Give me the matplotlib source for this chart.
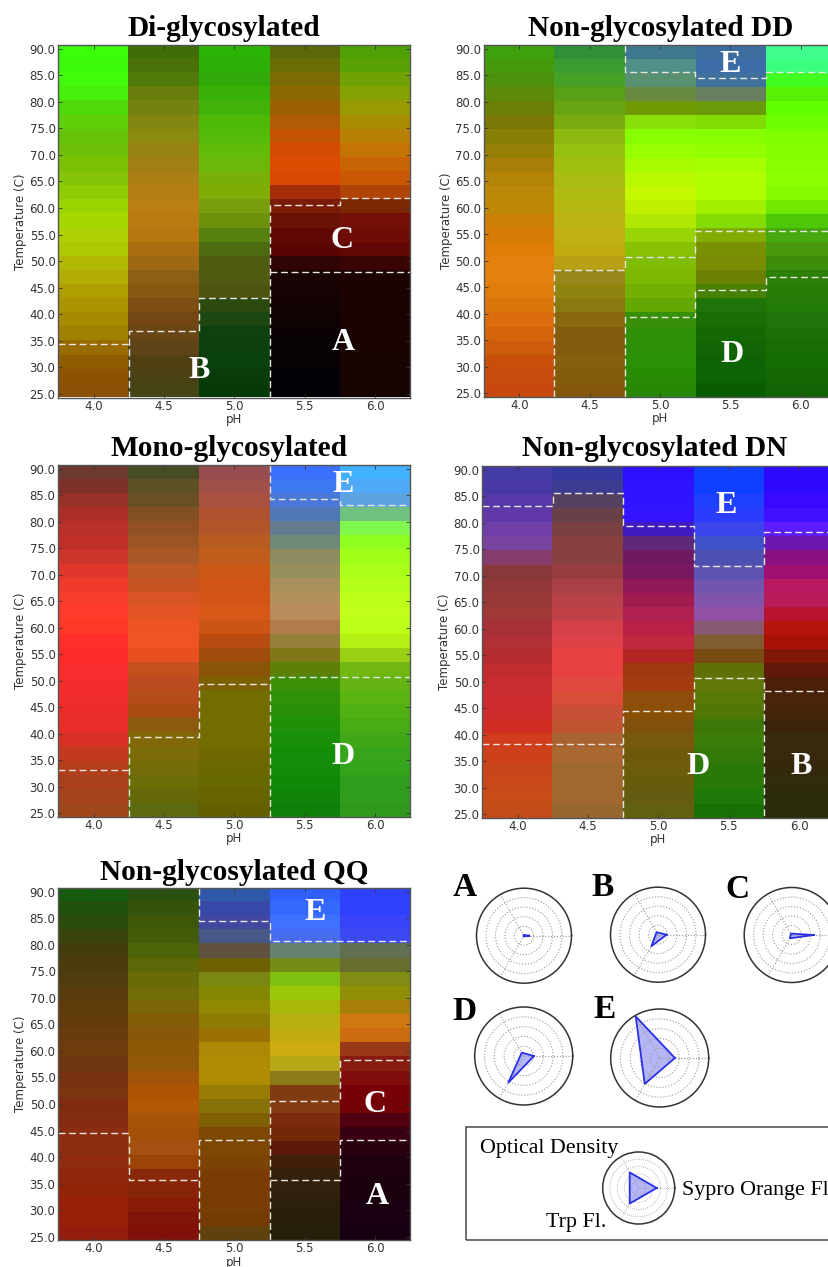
#!/usr/bin/env python3
#
# Stability heat maps (pH vs temperature) with radar plots of the phases
#
import numpy as np
import matplotlib
matplotlib.use('Agg')
import matplotlib.pyplot as plt
from matplotlib.colors import to_rgb
from matplotlib.patches import Rectangle

W, H = 829.0, 1267.0
SERIF = ['Liberation Serif', 'DejaVu Serif']

ph_ticks = [4.0, 4.5, 5.0, 5.5, 6.0]
temp_ticks = [25, 30, 35, 40, 45, 50, 55, 60, 65, 70, 75, 80, 85, 90]

# one colour per band, top (90 C) to bottom (25 C), one string per pH column
di_gly = [
 "3aff0a 3dfb0a 40fb0a 45f00a 50d80a 5ecf08 66c408 6fbe08 7cc006 85c406 90cc04 9ad400 a4d800 aed004 aec804 b0b804 b0ac04 ae9e00 ac9400 a88a00 a08000 986c02 905c02 8c5402 8a5006",
 "3f6e08 4a7008 527a0a 687d0c 758210 828610 8c8a10 988214 a08014 aa8014 b47e14 ba7e12 ba7c12 b87610 aa6e10 9e6814 8c6014 865812 7c4e14 744614 684616 5c4416 504014 4a4214 454414",
 "2cb404 2cb008 30aa08 38b008 40b208 4cb808 54bc08 60bc08 6cb80a 78b00a 80ac08 78a00c 6c920c 568010 4c6a10 4e5a10 505a10 4c5410 2c4a10 1e4610 0e4010 0c400e 0a400c 083c0a 063808",
 "5c6808 6a6c04 7c6a04 8c6a02 9c6202 b05c04 c45404 d44c04 de4c04 da4804 a42c08 7c1c06 6c1204 620804 5a0404 300404 180202 160202 120202 0e0202 0a0204 080204 060206 040206 040206",
 "4ea004 5aa204 6fa204 84a204 989a04 a88c04 b88004 c47404 c86404 c85804 b04408 7c2804 741008 700c06 600604 3a0404 1c0202 1c0202 1a0202 1a0202 1a0402 1a0402 180402 180402 160402",
]
dd_gly = [
 "3ea00c 46980c 4c900c 5c8a0a 6c8008 7a7806 887e06 988006 a88008 b48408 bc8808 c08808 cc8006 d47c06 e07c08 e48010 e48010 e07c0c dc740c dc6c0c d4640c cc5c0c c84e0c c84c0c c84810",
 "309036 3a9c30 46a028 58a014 68a414 78ac10 8cb810 98c010 a0c010 a8bc14 b0bc14 b8b814 bcb414 c0b014 c0ac10 b8a014 98881c 908410 887a10 886810 845a0c 845a0c 84600c 845c0c 84580c",
 "407890 509088 589070 688a40 6f9a04 88e008 88ff00 98ff00 a8fa00 b8f800 c4f800 c0f000 b0e804 98d408 88c004 80bc04 7cb804 74b004 64a804 389008 2e9008 2c9008 2a9004 288c04 268804",
 "3c6ca0 3c6ca8 40709c 688060 6a9a08 80dc04 88ff00 94ff00 a8ff00 b0ff00 b0fc00 a0f000 84dc04 80ac04 7a9004 7a8c04 6c8004 488004 1e7408 1a6c04 146804 126404 0e6404 0e6404 0a5c00",
 "40ff90 3cff80 40ff20 58f004 60ff00 70ff00 80ff00 84ff00 88ff00 8cff00 88fa00 70e800 4cc808 46a80c 4a980c 3e8c0c 2c8008 2a7c08 247c08 1e7408 1a7004 186c04 166c04 146804 126404",
]
mono_gly = [
 "6c3830 7c3028 983028 ac2c28 b83028 c03028 cc342c e0362c f03a2c f83c2c ff3c2c ff3828 ff302c fc2c2c f82c2c f42c2c f02c2c ec2c28 e82c28 d83024 c43820 b43e1c a8401c a4441c a0481c",
 "484c24 5c5024 6a4e24 805024 905024 9c5424 a85824 bc5824 c85424 d85424 e45424 ec5424 f05424 e85020 c45020 bc4c20 b44c1c a84c14 8c5a0c 806808 7c6c08 746c08 6c6c08 646808 5e6810",
 "964c50 a05048 aa5040 ae5230 b05628 b85c20 c05c1c cc5818 d05418 d45418 d85818 cc5414 b84c10 a04c0c 8c5408 7c6004 746c00 746c00 746c00 746c00 706800 6c6800 686800 666400 646000",
 "3c70ff 3c78f0 4a78d8 5078b8 647c90 708878 8c8c60 98905c a8905c b4905c b88c5c b07c4c 948038 807818 5c8008 3c9008 309008 289008 209008 1a9008 148c08 148c08 108808 108408 0e8008",
 "40b0ff 50a8f8 5ca4e0 70c080 80f850 90ff20 a0ff18 acff18 b4ff18 bcff18 c0ff18 bcff18 b4f014 98d014 70b810 64b414 5cb410 50b014 48ac14 40a818 38a41c 34a41c 309c1c 309c1c 30981c",
]
dn_gly = [
 "443ca4 4838a4 5638a8 6038a8 7040a8 7844a0 843c6c 883838 903838 983838 a03838 a83038 b03038 b42c30 c02c30 c82c30 cc2c30 cc2c2c d02c24 d03c1c cc401c c8441c c8481c c84c18 c44c18",
 "3438a0 3c3c90 544060 6a4048 784040 884040 884040 983c40 a84048 b84048 c04048 d44048 e04048 e84040 e84040 e04840 d84c38 c85038 c05430 a86430 a86830 a06830 a06830 a06830 966830",
 "2c10ff 3014ff 3014ff 3414ff 401cc0 602878 701860 781860 901858 a01c50 b02050 b82048 c02840 b42424 a03810 a43c10 904c0c 8a5008 80500c 78580c 6e580c 6c5c0c 685c0c 645c10 606010",
 "1040ff 1040ff 2040ff 2c3cff 3c44ec 4050c8 4c50b0 5c54b0 7054b0 8054a8 9050a4 885870 805c30 784c10 607008 607808 587808 507808 3c7808 3c7c08 347808 2a7808 287808 1e7808 187004",
 "2c08ff 3008ff 3808ff 4010ff 5c1cff 6c18b0 881080 a01070 b81860 b81c58 b81430 b4140c a81008 801808 601808 4c2008 4a2408 442408 3c240c 38280c 38280c 34280c 302c0c 2c2c0c 2c2c0c",
]
qq_gly = [
 "145c0c 20500c 2c4c0c 38440c 443c0c 4c3c0c 503c0c 583c0c 603c0c 643c0c 683c0c 6c3c0c 703810 783410 7c3410 802c10 842c10 8c2c10 8c2c10 902a10 902810 942408 982008 982008 941c0c",
 "2c5010 34540c 3c5808 445c08 4c6408 5c6808 686c08 706c08 7c6408 845c08 885808 8c5808 905808 a05408 ac5404 b05804 a85408 a45008 a45010 9c4408 882808 882408 881c08 801408 801008",
 "3058a8 3848a8 4048a0 485888 605040 706004 788810 848800 908800 8c7c04 9c7004 ac8804 b08c04 b08c04 987c04 887008 806004 7c4804 7c4804 7c4404 783c04 783c04 783c04 743c04 60400c",
 "3060ff 3468ff 4070ff 486cf0 688070 748c18 80c010 98c808 a8b808 b8b010 c0ac10 ccac10 b8a818 8c7c18 803c10 843c10 7c2c0c 742808 5c1808 402008 34200c 30200c 2c200c 28200c 24200c",
 "3040ff 3040ff 3844f8 3c48f0 607050 686c2c 808c14 909008 a88008 d07810 cc6c10 983818 881c10 800c0c 780008 740008 500010 380010 280010 200010 1c0010 1c0010 180010 180010 140010",
]

# phase boundaries, (pH, temperature) corners of each dashed line
BOT, TOP = 24.34, 90.66
di_bounds = [
 [(3.75, 34.35), (4.25, 34.35)],
 [(4.25, BOT), (4.25, 36.86), (4.75, 36.86), (4.75, 43.13), (5.25, 43.13), (5.25, 60.57), (5.75, 60.57), (5.75, 61.8), (6.25, 61.8)],
 [(5.25, BOT), (5.25, 43.13)],
 [(5.25, 48.0), (6.25, 48.0)],
]
dd_bounds = [
 [(4.75, TOP), (4.75, 85.6), (5.25, 85.6), (5.25, 84.35), (5.75, 84.35), (5.75, 85.6), (6.25, 85.6)],
 [(4.25, BOT), (4.25, 48.15), (4.75, 48.15), (4.75, 50.66), (5.25, 50.66), (5.25, 55.68), (6.25, 55.68)],
 [(4.75, BOT), (4.75, 39.37), (5.25, 39.37), (5.25, 44.38), (5.75, 44.38), (5.75, 46.9), (6.25, 46.9)],
]
mono_bounds = [
 [(3.75, 33.15), (4.25, 33.15)],
 [(4.25, BOT), (4.25, 39.4), (4.75, 39.4), (4.75, 49.4), (5.25, 49.4)],
 [(5.25, BOT), (5.25, 50.66), (6.25, 50.66)],
 [(5.25, TOP), (5.25, 84.3), (5.75, 84.3), (5.75, 83.15), (6.25, 83.15)],
]
dn_bounds = [
 [(3.75, 83.2), (4.25, 83.2), (4.25, 85.67), (4.75, 85.67), (4.75, 79.45), (5.25, 79.45), (5.25, 71.9), (5.75, 71.9), (5.75, 78.2), (6.25, 78.2)],
 [(3.75, 38.2), (4.75, 38.2)],
 [(4.75, BOT), (4.75, 44.45), (5.25, 44.45), (5.25, 50.66), (5.75, 50.66), (5.75, BOT)],
 [(5.75, 48.2), (6.25, 48.2)],
]
qq_bounds = [
 [(3.75, 44.5), (4.25, 44.5), (4.25, 35.7), (4.75, 35.7)],
 [(4.75, BOT), (4.75, 43.25), (5.25, 43.25)],
 [(5.25, BOT), (5.25, 50.65), (5.75, 50.65), (5.75, 58.2), (6.25, 58.2)],
 [(5.25, 35.7), (5.75, 35.7), (5.75, 43.25), (6.25, 43.25)],
 [(4.75, TOP), (4.75, 84.4), (5.25, 84.4), (5.25, 80.65), (6.25, 80.65)],
]

# radar values: Sypro Orange Fl., Optical Density, Trp Fl.
radar_a = [0.11, 0.02, 0.02]
radar_b = [0.18, 0.06, 0.28]
radar_c = [0.47, 0.035, 0.08]
radar_d = [0.21, 0.08, 0.63]
radar_e = [0.31, 0.98, 0.61]
radar_key = [0.50, 0.50, 0.50]


def add_px_axes(x0, y0, x1, y1, **kw):
    return fig.add_axes([x0 / W, 1 - y1 / H, (x1 - x0) / W, (y1 - y0) / H], **kw)


def px_text(x, y, s, **kw):
    kw.setdefault('family', SERIF)
    kw.setdefault('ha', 'center')
    kw.setdefault('va', 'center')
    fig.text(x / W, 1 - y / H, s, **kw)


def heat_panel(box, columns, bounds, title, title_xy):
    ax = add_px_axes(*box)
    img = np.array([[to_rgb('#' + c) for c in col.split()] for col in columns])
    img = np.transpose(img, (1, 0, 2))
    ax.imshow(img, origin='upper', aspect='auto', interpolation='nearest',
              extent=[3.75, 6.25, BOT, TOP])
    for line in bounds:
        xs, ys = zip(*line)
        ax.plot(xs, ys, color='#e6e6e0', lw=1.0, dashes=(5, 2.6))
    ax.set_xlim(3.75, 6.25)
    ax.set_ylim(BOT, TOP)
    ax.set_xticks(ph_ticks)
    ax.set_xticklabels(['%.1f' % t for t in ph_ticks])
    ax.set_yticks(temp_ticks)
    ax.set_yticklabels(['%.1f' % t for t in temp_ticks])
    ax.tick_params(direction='in', length=3, width=0.6, color='#333333',
                   labelsize=8.5, labelcolor='#333333', top=True, right=True)
    ax.tick_params(axis='x', pad=1.5)
    ax.tick_params(axis='y', pad=2)
    ax.set_xlabel('pH', fontsize=8.5, color='#333333', labelpad=0.5)
    ax.set_ylabel('Temperature (C)', fontsize=8.5, color='#333333', labelpad=1.5)
    for sp in ax.spines.values():
        sp.set_color('#555555')
        sp.set_linewidth(1.0)
    px_text(title_xy[0], title_xy[1], title, fontsize=21.2, fontweight='bold', color='black')
    return ax


def radar(cx, cy, r, values, grid_lw=0.8):
    ax = add_px_axes(cx - r, cy - r, cx + r, cy + r, projection='polar')
    angles = np.radians([0, 120, 240])
    ax.fill(angles, values, color='#2a30e8', alpha=0.35, lw=0)
    ax.plot(np.append(angles, angles[0]), values + values[:1], color='#2a30e8', lw=1.3)
    ax.set_ylim(0, 1)
    ax.set_rgrids([0.2, 0.4, 0.6, 0.8], labels=[])
    ax.set_thetagrids([0, 120, 240], labels=[])
    ax.grid(True, color='#999999', linestyle=':', linewidth=grid_lw)
    ax.spines['polar'].set_color('#333333')
    ax.spines['polar'].set_linewidth(1.1)
    ax.tick_params(length=0)
    return ax


fig = plt.figure(figsize=(W / 100, H / 100), dpi=100)

heat_panel((58.3, 45, 410.5, 397.5), di_gly, di_bounds, 'Di-glycosylated', (224, 29))
heat_panel((484, 45, 836, 396.7), dd_gly, dd_bounds, 'Non-glycosylated DD', (660.5, 28))
heat_panel((58.3, 465, 410.5, 816.7), mono_gly, mono_bounds, 'Mono-glycosylated', (229, 449))
heat_panel((482.3, 466.3, 834.5, 817.7), dn_gly, dn_bounds, 'Non-glycosylated DN', (655, 449))
heat_panel((58.3, 888, 410.5, 1240.3), qq_gly, qq_bounds, 'Non-glycosylated QQ', (234, 872))

# phase letters on the maps
for x, y, s in [(199, 370, 'B'), (342, 240, 'C'), (343, 343, 'A'),
                (730, 64, 'E'), (732, 355, 'D'),
                (343, 485, 'E'), (343, 756, 'D'),
                (726, 506, 'E'), (698, 767, 'D'), (801, 767, 'B'),
                (315, 912, 'E'), (375, 1105, 'C'), (377, 1197, 'A')]:
    px_text(x, y, s, fontsize=23, fontweight='bold', color='white')

radar(524, 935.7, 47.5, radar_a)
radar(658, 934.7, 47.5, radar_b)
radar(791.7, 935, 47.5, radar_c)
radar(523.7, 1056, 49, radar_d)
radar(659.7, 1058, 49, radar_e)

for x, y, s in [(465, 887, 'A'), (603, 887, 'B'), (737, 890, 'C'),
                (465, 1011, 'D'), (605, 1009, 'E')]:
    px_text(x, y, s, fontsize=24, fontweight='bold', color='black')

# key box
fig.patches.append(Rectangle((465.7 / W, 1 - 1240 / H), 400 / W, 113.3 / H,
                             transform=fig.transFigure, figure=fig,
                             fill=False, edgecolor='#555555', lw=1.2))
radar(638.7, 1188, 36, radar_key, grid_lw=0.6)
px_text(480, 1148, 'Optical Density', fontsize=15.8, ha='left')
px_text(681.7, 1190, 'Sypro Orange Fl', fontsize=15.8, ha='left')
px_text(545.7, 1223, 'Trp Fl.', fontsize=15.8, ha='left')

fig.savefig('out.png', dpi=100)
